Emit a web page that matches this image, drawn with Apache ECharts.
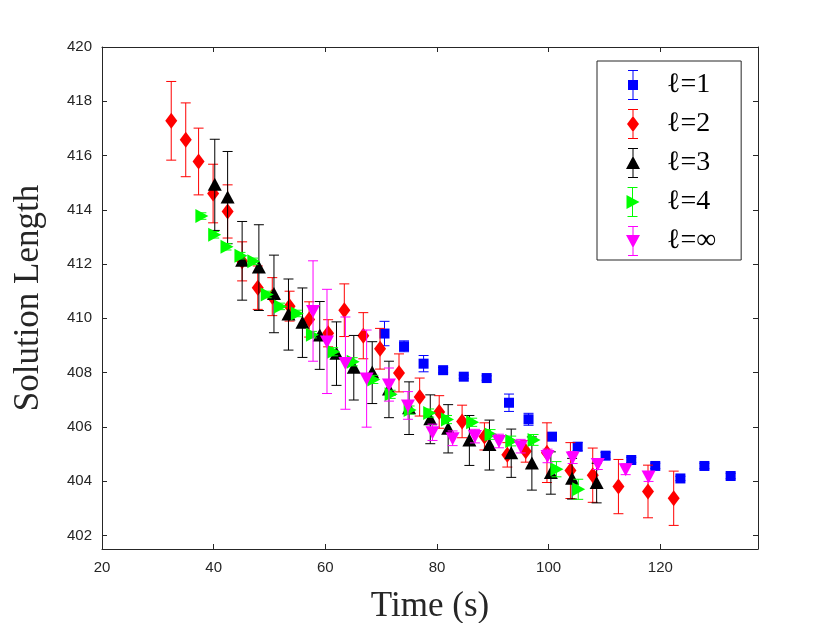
<!DOCTYPE html>
<html>

<head>
  <meta charset="utf-8">
  <title>Solution Length</title>
  <style>
    html, body {
      margin: 0;
      padding: 0;
      background: #fff;
    }

    #chart {
      width: 830px;
      height: 623px;
    }
  </style>
</head>

<body>
  <div id="chart"></div>
</body>
<script src="https://cdn.jsdelivr.net/npm/echarts@6/dist/echarts.min.js"></script>
<script>
  // l = 1
  const l1_time = [70.6, 74.1, 77.6, 81.1, 84.8, 88.9, 92.9, 96.4, 100.6, 105.2, 110.2, 114.8, 119.1, 123.6, 127.9, 132.6]
  const l1_len = [409.44, 408.97, 408.33, 408.09, 407.85, 407.8, 406.89, 406.28, 405.64, 405.27, 404.94, 404.78, 404.56, 404.1, 404.56, 404.19]
  const l1_err = [0.45, 0.2, 0.3, 0.1, 0.06, 0.08, 0.32, 0.22, 0.1, 0.15, 0.12, 0.1, 0.1, 0.08, 0.1, 0.1]

  // l = 2
  const l2_time = [32.4, 35.0, 37.3, 39.9, 42.5, 45.1, 47.9, 50.5, 53.6, 57.1, 60.5, 63.4, 66.8, 69.8, 73.2, 76.9, 80.4, 84.5, 88.5, 92.6, 95.9, 99.7, 103.9, 107.9, 112.5, 117.8, 122.4]
  const l2_len = [417.28, 416.58, 415.78, 414.6, 413.94, 412.1, 411.13, 410.8, 410.45, 409.96, 409.45, 410.3, 409.36, 408.88, 407.99, 407.1, 406.55, 406.2, 405.65, 404.97, 405.1, 405.05, 404.39, 404.22, 403.8, 403.62, 403.37]
  const l2_err = [1.45, 1.36, 1.23, 1.08, 0.98, 0.72, 0.8, 0.7, 0.55, 0.65, 0.5, 0.97, 0.85, 0.75, 0.7, 0.7, 0.6, 0.6, 0.5, 0.45, 0.4, 1.1, 1.03, 1.0, 1.0, 0.97, 1.0]

  // l = 3
  const l3_time = [40.2, 42.5, 45.1, 48.1, 50.8, 53.4, 55.9, 59.0, 62.0, 65.1, 68.4, 71.4, 75.0, 78.8, 82.0, 85.8, 89.4, 93.3, 97.0, 100.4, 104.2, 108.6]
  const l3_len = [414.92, 414.45, 412.12, 411.87, 410.9, 410.14, 409.84, 409.37, 408.7, 408.18, 408.0, 407.38, 406.69, 406.28, 405.93, 405.5, 405.33, 405.03, 404.65, 404.3, 404.09, 403.93]
  const l3_err = [1.68, 1.7, 1.45, 1.58, 1.43, 1.31, 1.28, 1.25, 1.17, 1.19, 1.14, 1.04, 0.97, 0.9, 0.89, 0.92, 0.92, 0.89, 0.98, 0.78, 0.75, 0.73]

  // l = 4
  const l4_time = [37.8, 40.1, 42.3, 44.8, 47.1, 49.5, 51.9, 54.9, 57.6, 61.4, 64.9, 68.6, 71.7, 75.1, 78.6, 81.8, 86.3, 89.6, 93.3, 97.3, 101.4, 105.3]
  const l4_len = [413.77, 413.08, 412.64, 412.31, 412.1, 410.88, 410.44, 410.18, 409.4, 408.77, 408.4, 407.75, 407.2, 406.62, 406.51, 406.27, 406.17, 405.72, 405.48, 405.52, 404.44, 403.7]
  const l4_err = [0.12, 0.12, 0.12, 0.12, 0.12, 0.12, 0.12, 0.12, 0.12, 0.15, 0.15, 0.15, 0.15, 0.15, 0.15, 0.15, 0.15, 0.18, 0.18, 0.2, 0.28, 0.37]

  // l = inf
  const linf_time = [57.8, 60.3, 63.6, 67.4, 71.4, 74.8, 79.2, 82.8, 86.8, 91.1, 95.0, 99.8, 104.3, 108.8, 113.8, 117.9]
  const linf_len = [410.27, 409.15, 408.35, 407.78, 407.56, 406.79, 405.8, 405.58, 405.66, 405.48, 405.29, 404.93, 404.87, 404.63, 404.44, 404.17]
  const linf_err = [1.85, 1.92, 1.7, 1.79, 0.61, 0.51, 0.3, 0.27, 0.25, 0.25, 0.25, 0.25, 0.22, 0.2, 0.2, 0.18]

  const x_ticks = [20, 40, 60, 80, 100, 120]
  const y_ticks = [402, 404, 406, 408, 410, 412, 414, 416, 418, 420]

  const names = ['ℓ=1', 'ℓ=2', 'ℓ=3', 'ℓ=4', 'ℓ=∞']
  const colors = ['#0000ff', '#ff0000', '#000000', '#00ff00', '#ff00ff']
  const shapes = ['square', 'diamond', 'up', 'right', 'down']

  let chart = echarts.init(document.getElementById('chart'))

  function zip(xs, ys, es) {
    return xs.map((x, i) => [x, ys[i], es[i]])
  }

  // marker outline around the pixel centre
  function marker_points(shape, c) {
    const [x, y] = c
    switch (shape) {
      case 'square': return [[x - 5, y - 5], [x + 5, y - 5], [x + 5, y + 5], [x - 5, y + 5]]
      case 'diamond': return [[x, y - 8], [x + 6, y], [x, y + 8], [x - 6, y]]
      case 'up': return [[x, y - 7], [x + 7, y + 6], [x - 7, y + 6]]
      case 'right': return [[x - 6, y - 7], [x + 7, y], [x - 6, y + 7]]
      case 'down': return [[x - 7, y - 6], [x + 7, y - 6], [x, y + 7]]
    }
  }

  // legend icon: error bar with the marker on top
  const bar_path = 'M6.5 0 H7.5 V30 H6.5 Z M2 0 H12 V1 H2 Z M2 29 H12 V30 H2 Z '
  const icon_marker = {
    square: 'M2 10 H12 V20 H2 Z',
    diamond: 'M7 7 L13 15 L7 23 L1 15 Z',
    up: 'M7 8 L14 21 L0 21 Z',
    right: 'M1 8 L14 15 L1 22 Z',
    down: 'M0 9 L14 9 L7 22 Z',
  }

  function make_render(shape, color) {
    return function (params, api) {
      const x = api.value(0)
      const y = api.value(1)
      const e = api.value(2)
      const c = api.coord([x, y])
      const top = api.coord([x, y + e])
      const bot = api.coord([x, y - e])
      const cap = 5
      const line_style = { stroke: color, lineWidth: 1 }
      return {
        type: 'group',
        children: [
          { type: 'line', shape: { x1: c[0], y1: top[1], x2: c[0], y2: bot[1] }, style: line_style },
          { type: 'line', shape: { x1: c[0] - cap, y1: top[1], x2: c[0] + cap, y2: top[1] }, style: line_style },
          { type: 'line', shape: { x1: c[0] - cap, y1: bot[1], x2: c[0] + cap, y2: bot[1] }, style: line_style },
          { type: 'polygon', shape: { points: marker_points(shape, c) }, style: { fill: color } },
        ],
      }
    }
  }

  const all_data = [
    zip(l1_time, l1_len, l1_err),
    zip(l2_time, l2_len, l2_err),
    zip(l3_time, l3_len, l3_err),
    zip(l4_time, l4_len, l4_err),
    zip(linf_time, linf_len, linf_err),
  ]

  const axis_color = '#262626'
  const tick_font = { color: axis_color, fontSize: 15, fontFamily: 'Liberation Sans' }
  const title_font = { color: axis_color, fontSize: 35, fontFamily: 'Liberation Serif' }

  let option = {
    animation: false,
    backgroundColor: '#fff',
    grid: {
      left: 102,
      right: 72,
      top: 47,
      bottom: 74,
      containLabel: false,
      outerBoundsMode: 'none',
    },
    legend: {
      orient: 'vertical',
      left: 597,
      top: 61,
      padding: [9, 25, 4, 29],
      itemGap: 9,
      itemWidth: 14,
      itemHeight: 30,
      backgroundColor: '#fff',
      borderColor: axis_color,
      borderWidth: 1,
      borderRadius: 0,
      textStyle: { color: '#000', fontSize: 28, fontFamily: 'Liberation Serif', padding: [0, 0, 0, 22] },
      data: names.map((n, i) => ({ name: n, icon: 'path://' + bar_path + icon_marker[shapes[i]] })),
    },
    xAxis: [
      {
        type: 'value',
        min: 20,
        max: 137.5,
        name: 'Time (s)',
        nameLocation: 'middle',
        nameGap: 40,
        nameTextStyle: title_font,
        axisLine: { lineStyle: { color: axis_color } },
        axisTick: { inside: true, length: 5, customValues: x_ticks, lineStyle: { color: axis_color } },
        axisLabel: { customValues: x_ticks, margin: 11, ...tick_font },
        splitLine: { show: false },
      },
      {
        type: 'value',
        position: 'top',
        min: 20,
        max: 137.5,
        axisLine: { lineStyle: { color: axis_color } },
        axisTick: { inside: true, length: 5, customValues: x_ticks, lineStyle: { color: axis_color } },
        axisLabel: { show: false },
        splitLine: { show: false },
      },
    ],
    yAxis: [
      {
        type: 'value',
        min: 401.5,
        max: 420,
        name: 'Solution Length',
        nameLocation: 'middle',
        nameGap: 56,
        nameRotate: 90,
        nameTextStyle: title_font,
        axisLine: { show: true, lineStyle: { color: axis_color } },
        axisTick: { show: true, inside: true, length: 5, customValues: y_ticks, lineStyle: { color: axis_color } },
        axisLabel: { customValues: y_ticks, margin: 10, ...tick_font },
        splitLine: { show: false },
      },
      {
        type: 'value',
        position: 'right',
        min: 401.5,
        max: 420,
        axisLine: { show: true, lineStyle: { color: axis_color } },
        axisTick: { show: true, inside: true, length: 5, customValues: y_ticks, lineStyle: { color: axis_color } },
        axisLabel: { show: false },
        splitLine: { show: false },
      },
    ],
    series: all_data.map((d, i) => ({
      name: names[i],
      type: 'custom',
      xAxisIndex: 0,
      yAxisIndex: 0,
      itemStyle: { color: colors[i] },
      encode: { x: 0, y: 1 },
      renderItem: make_render(shapes[i], colors[i]),
      data: d,
      z: 2 + i,
    })),
  }

  chart.setOption(option)
</script>

</html>
